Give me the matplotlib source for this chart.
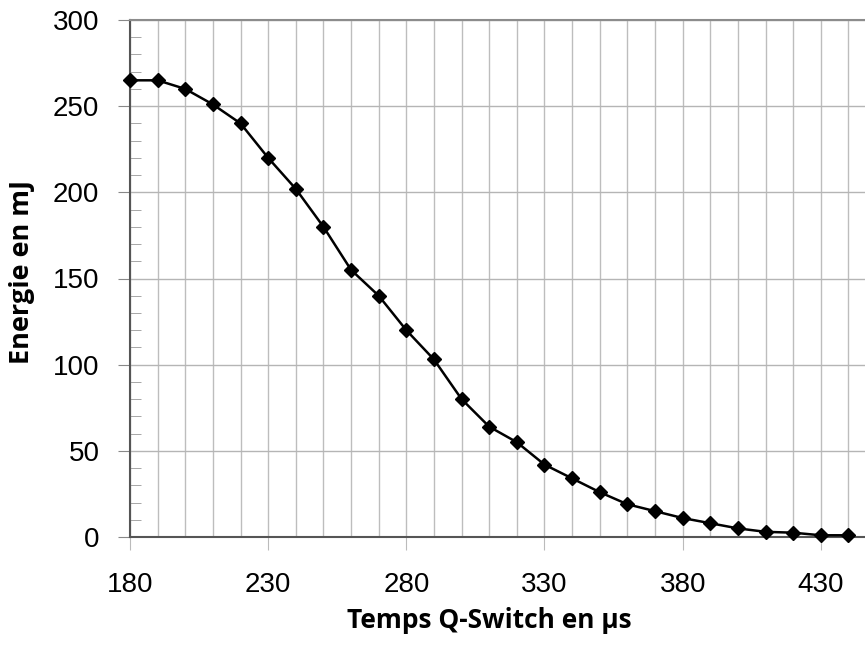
import matplotlib
matplotlib.use("Agg")
import matplotlib.pyplot as plt
from matplotlib.ticker import MultipleLocator

times = [180, 190, 200, 210, 220, 230, 240, 250, 260, 270, 280, 290, 300, 310,
         320, 330, 340, 350, 360, 370, 380, 390, 400, 410, 420, 430, 440]
energy = [265, 265, 260, 251, 240, 220, 202, 180, 155, 140, 120, 103, 80, 64,
          55, 42, 34, 26, 19, 15, 11, 8, 5, 3, 2.5, 1, 1]
xticks = [180, 230, 280, 330, 380, 430]
yticks = [0, 50, 100, 150, 200, 250, 300]
xlabel = "Temps Q-Switch en µs"
ylabel = "Energie en mJ"

fig = plt.figure(figsize=(8.65, 6.46), dpi=100)
ax = fig.add_axes([130/865, 1 - 537/646, (865 - 130)/865 + 0.001, 517/646])

ax.set_xlim(180, 180 + (865 - 130) / 2.76)
ax.set_ylim(0, 300)

ax.xaxis.set_major_locator(plt.FixedLocator(xticks))
ax.xaxis.set_minor_locator(MultipleLocator(10))
ax.yaxis.set_major_locator(plt.FixedLocator(yticks))
ax.yaxis.set_minor_locator(MultipleLocator(10))

ax.grid(True, which="major", axis="y", color="#b5b5b5", lw=1.0)
ax.grid(True, which="minor", axis="x", color="#bdbdbd", lw=1.0)
ax.grid(True, which="major", axis="x", color="#bdbdbd", lw=1.0)
ax.set_axisbelow(True)

ax.plot(times, energy, color="black", lw=1.8, marker="D", markersize=7.5,
        markerfacecolor="black", markeredgecolor="black", zorder=3, clip_on=False)

ax.spines["top"].set_color("#8c8c8c")
ax.spines["top"].set_linewidth(1.5)
ax.spines["right"].set_visible(False)
ax.spines["left"].set_color("#555555")
ax.spines["left"].set_linewidth(1.5)
ax.spines["bottom"].set_color("#555555")
ax.spines["bottom"].set_linewidth(1.5)

ax.tick_params(axis="y", which="major", direction="out", length=9, color="#888888",
               labelsize=20, pad=13)
ax.tick_params(axis="y", which="minor", direction="in", length=8, color="#999999")
ax.tick_params(axis="x", which="major", direction="out", length=9, color="#bbbbbb",
               labelsize=20, pad=16)
ax.tick_params(axis="x", which="minor", length=0)
for lab in ax.get_xticklabels() + ax.get_yticklabels():
    lab.set_fontfamily("Liberation Sans")

xl = ax.set_xlabel(xlabel, fontsize=19, fontweight="bold", family="Open Sans")
yl = ax.set_ylabel(ylabel, fontsize=19.5, fontweight="bold", family="Open Sans")
xl.set_va("center")
xl.set_ha("center")
yl.set_va("center")
yl.set_ha("center")
ax.xaxis.set_label_coords((489 - 130) / 735, (537 - 620) / 517)
ax.yaxis.set_label_coords((22 - 130) / 735, (537 - 272) / 517)

fig.savefig("out.png", dpi=100)
